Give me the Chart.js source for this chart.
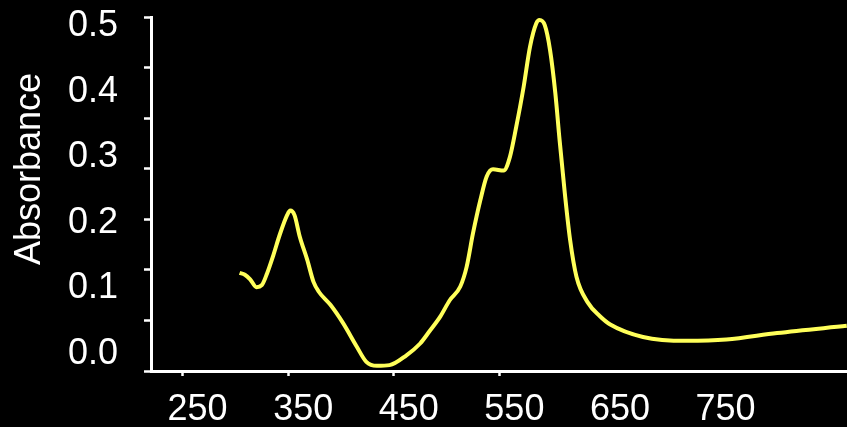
<!DOCTYPE html>
<html>
<head>
<meta charset="utf-8">
<script src="https://cdn.jsdelivr.net/npm/chart.js@4"></script>
<style>
  html, body { margin: 0; padding: 0; background: #000; }
  #wrap { width: 847px; height: 427px; }
</style>
</head>
<body>
<div id="wrap"><canvas id="spectrum" width="847" height="427"></canvas></div>
<script>
// wavelength (nm)
const wavelengths = [304, 309, 314, 320, 325, 330, 336, 342, 349, 352, 356, 361, 368, 374, 379,
  390, 402, 415, 424, 434, 446, 462, 475, 484, 494, 503, 513, 519, 525, 532, 538, 544, 554,
  560, 566, 573, 579, 585, 588, 593, 598, 603, 607, 612, 617, 623, 634, 645, 655, 686, 727,
  765, 813, 879];
const absorbance = [0.124, 0.121, 0.114, 0.102, 0.105, 0.123, 0.151, 0.182, 0.212, 0.219, 0.212,
  0.179, 0.144, 0.110, 0.095, 0.075, 0.047, 0.011, -0.012, -0.018, -0.017, -0.002, 0.016, 0.035,
  0.057, 0.082, 0.103, 0.133, 0.184, 0.235, 0.271, 0.282, 0.280, 0.301, 0.347, 0.408, 0.469,
  0.505, 0.510, 0.502, 0.464, 0.398, 0.327, 0.245, 0.174, 0.118, 0.078, 0.058, 0.045, 0.026,
  0.020, 0.022, 0.032, 0.043];
const xTickLabels = [250, 350, 450, 550, 650, 750];
const yTickLabels = [0.0, 0.1, 0.2, 0.3, 0.4, 0.5];

Chart.defaults.font.family = "'Liberation Sans', Arial, sans-serif";

const points = wavelengths.map((w, i) => ({ x: w, y: absorbance[i] }));

new Chart(document.getElementById('spectrum').getContext('2d'), {
  type: 'line',
  data: {
    datasets: [{
      label: 'Absorbance',
      data: points,
      borderColor: '#ffff5a',
      borderWidth: 4,
      pointRadius: 0,
      cubicInterpolationMode: 'monotone',
      fill: false
    }]
  },
  options: {
    responsive: false,
    animation: false,
    devicePixelRatio: 1,
    layout: { padding: { top: 17, right: 0, bottom: 0, left: 0 } },
    plugins: { legend: { display: false }, tooltip: { enabled: false } },
    scales: {
      x: {
        type: 'linear',
        min: 220.1,
        max: 879.2,
        afterBuildTicks: s => { s.ticks = xTickLabels.map(v => ({ value: v })); },
        afterFit: s => { s.height = 56; s.paddingLeft = 0; s.paddingRight = 0; },
        ticks: {
          autoSkip: false, maxRotation: 0, color: '#fff',
          font: { size: 36, lineHeight: 1 },
          padding: 16, labelOffset: 15
        },
        grid: {
          drawOnChartArea: false, tickLength: 5, tickWidth: 2.5,
          tickColor: c => (c.index < 4 ? '#fff' : 'rgba(0,0,0,0)')
        },
        border: { color: '#fff', width: 3 }
      },
      y: {
        type: 'linear',
        min: -0.026,
        max: 0.5145,
        // 8 evenly spaced tick marks along the axis + the 6 labelled values
        afterBuildTicks: s => {
          const marks = [];
          for (let i = 0; i <= 7; i++) marks.push({ value: s.min + i * (s.max - s.min) / 7, mark: true });
          s.ticks = marks.concat(yTickLabels.map(v => ({ value: v })));
        },
        afterFit: s => { s.width = 151; s.paddingTop = 0; s.paddingBottom = 0; },
        ticks: {
          autoSkip: false, color: '#fff',
          font: { size: 36, lineHeight: 1 },
          padding: 26,
          callback: (v, i, ticks) => (ticks[i].mark ? '' : v.toFixed(1))
        },
        grid: {
          drawOnChartArea: false, tickLength: 7, tickWidth: 2.5,
          tickColor: c => (c.tick && c.tick.mark ? '#fff' : 'rgba(0,0,0,0)')
        },
        border: { color: '#fff', width: 3 },
        title: {
          display: true,
          text: '     Absorbance',
          color: '#fff',
          font: { size: 36, lineHeight: 1.2 },
          padding: { top: 8, bottom: 17 }
        }
      }
    }
  }
});
</script>
</body>
</html>
